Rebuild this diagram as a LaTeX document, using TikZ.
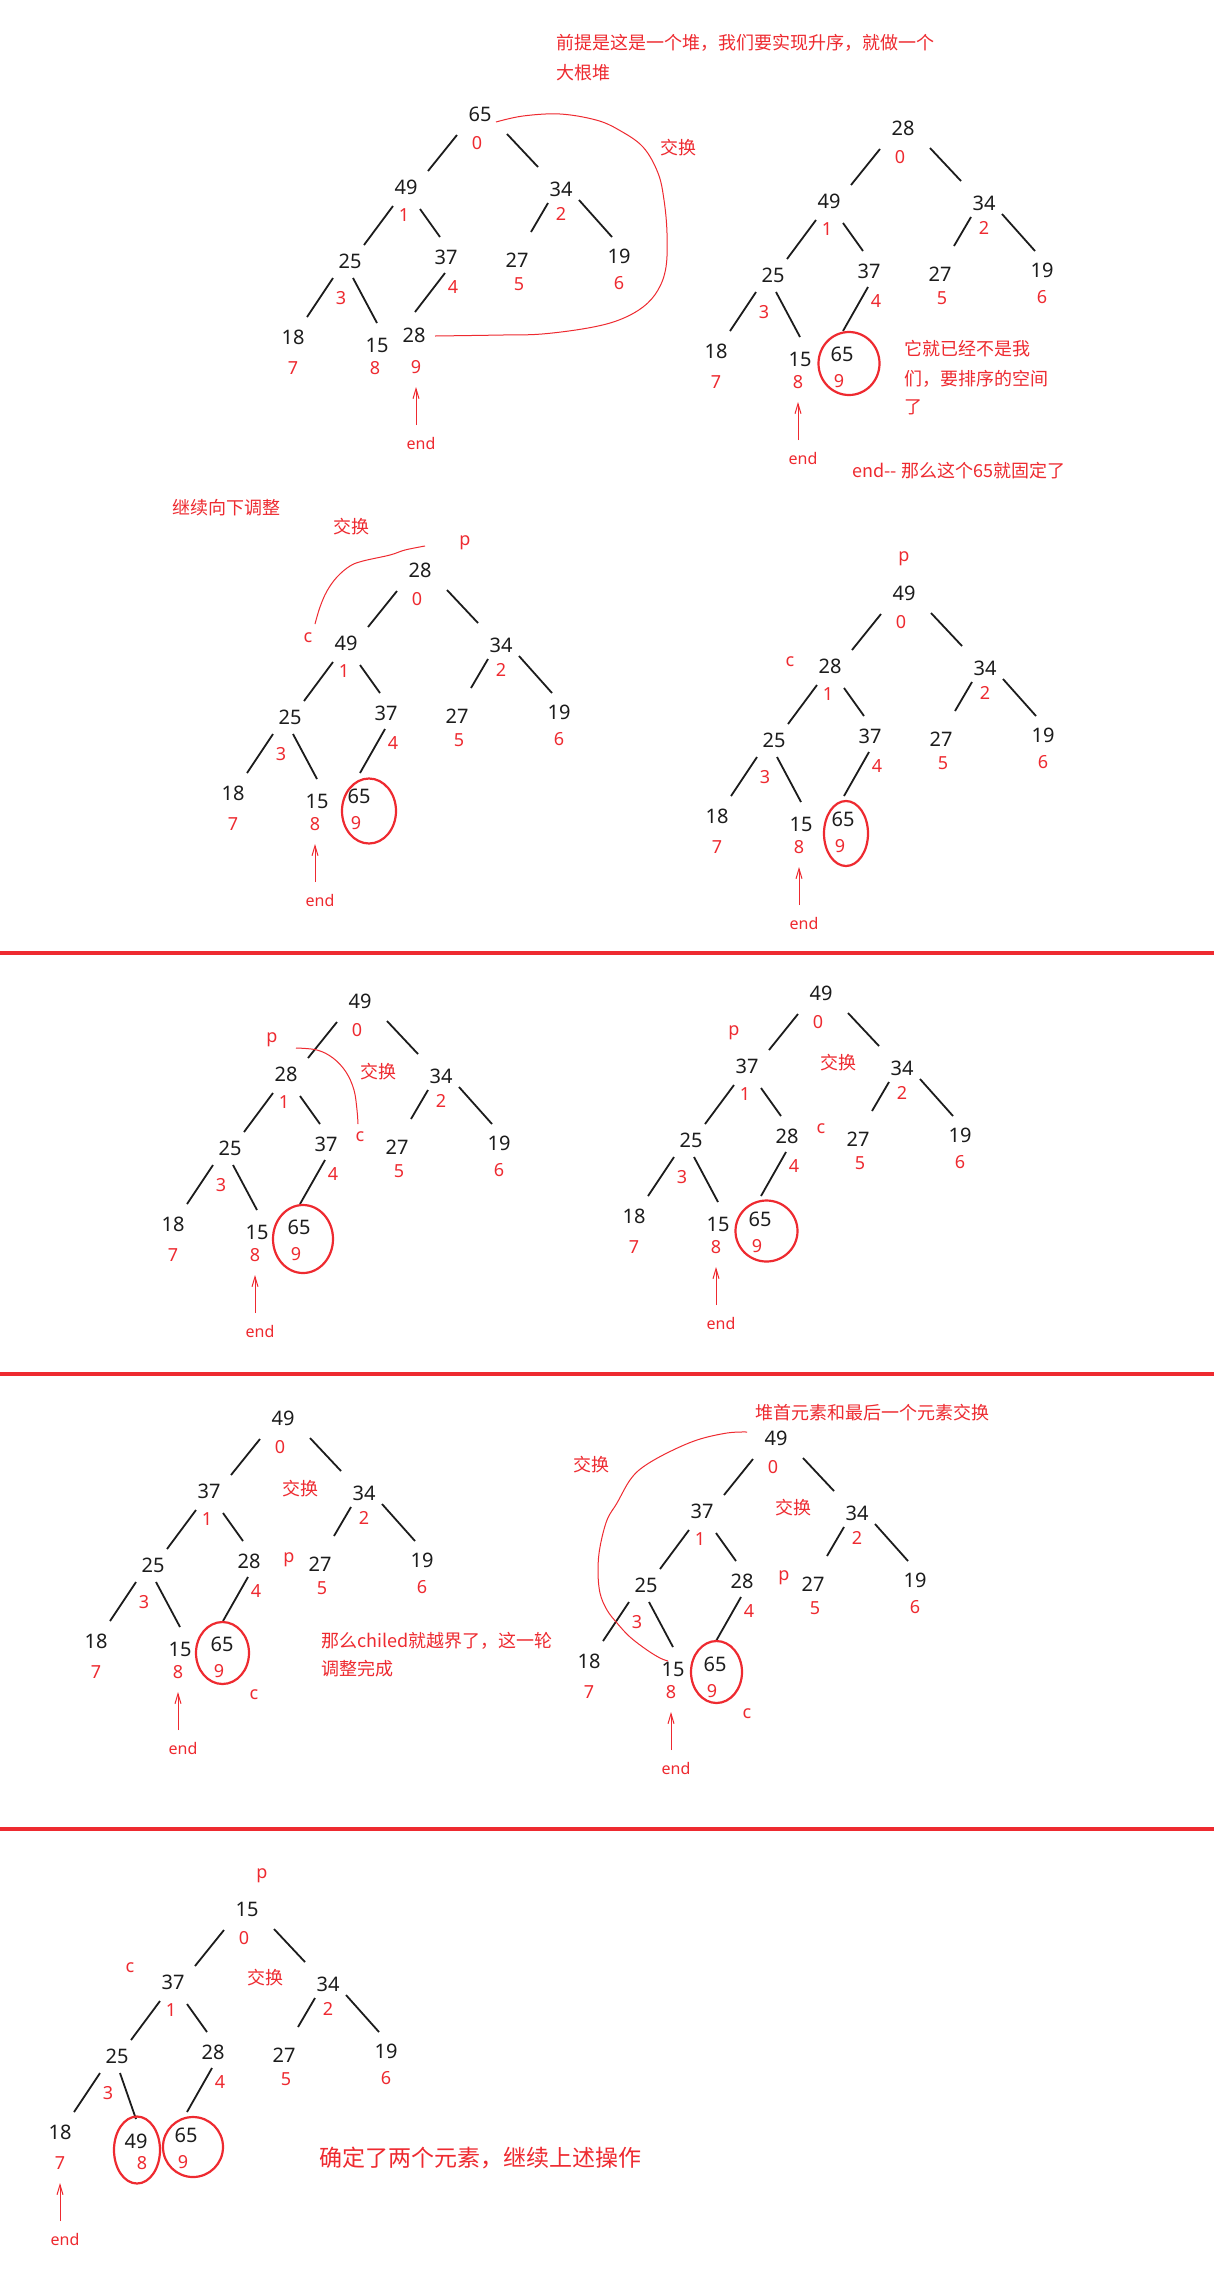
\documentclass[tikz,border=0pt]{standalone}
\usepackage{fontspec}
\setmainfont{Noto Sans}
\newfontfamily\cjk{Noto Sans CJK SC}
\usetikzlibrary{arrows.meta}
\definecolor{rd}{RGB}{238,42,48}
\definecolor{ink}{RGB}{28,28,28}
\tikzset{
  val/.style={font=\fontsize{10}{12}\selectfont, text=ink, inner sep=0pt},
  idx/.style={font=\fontsize{9}{11}\selectfont, text=rd, inner sep=0pt},
  ptr/.style={font=\fontsize{9}{11}\selectfont, text=rd, inner sep=0pt},
  note/.style={font=\cjk\fontsize{9}{11}\selectfont, text=rd, inner sep=0pt, anchor=west},
  bignote/.style={font=\cjk\fontsize{11.5}{13}\selectfont, text=rd, inner sep=0pt, anchor=west},
  swaptxt/.style={font=\cjk\fontsize{9}{11}\selectfont, text=rd, inner sep=0pt},
  endlbl/.style={font=\fontsize{8}{10}\selectfont, text=rd, inner sep=0pt},
  treeedge/.style={draw=ink, line width=0.9pt},
  ring/.style={draw=rd, line width=1.1pt},
  swapline/.style={draw=rd, line width=0.5pt},
  endarr/.style={draw=rd, line width=0.5pt, -{Straight Barb[length=5pt,width=3pt]}},
  rowrule/.style={draw=rd, line width=1.6pt},
}
\def\pEight{27,84}
\def\pNine{69,79}
\newcommand\heaptree[9]{\def\hpfx{#1}\def\horg{#2}\def\hvA{#3}\def\hvB{#4}\def\hvC{#5}\def\hvD{#6}\def\hvE{#7}\def\hvF{#8}\def\hvG{#9}\heaptreeRest}
\newcommand\heaptreeRest[3]{%
  \begin{scope}[shift={(\horg)}]
    \node[val] (\hpfx-n0) at (130,-147) {\hvA};
    \node[val] (\hpfx-n1) at (56,-74) {\hvB};
    \node[val] (\hpfx-n2) at (211,-72) {\hvC};
    \node[val] (\hpfx-n3) at (0,0) {\hvD};
    \node[val] (\hpfx-n4) at (96,-4) {\hvE};
    \node[val] (\hpfx-n5) at (167,-1) {\hvF};
    \node[val] (\hpfx-n6) at (269,-5) {\hvG};
    \node[val] (\hpfx-n7) at (-57,76) {#1};
    \node[val] (\hpfx-n8) at (\pEight) {#2};
    \node[val] (\hpfx-n9) at (\pNine) {#3};
    \node[idx] (\hpfx-i0) at (127,-118) {0};
    \node[idx] (\hpfx-i1) at (54,-46) {1};
    \node[idx] (\hpfx-i2) at (211,-47) {2};
    \node[idx] (\hpfx-i3) at (-9,37) {3};
    \node[idx] (\hpfx-i4) at (103,26) {4};
    \node[idx] (\hpfx-i5) at (169,23) {5};
    \node[idx] (\hpfx-i6) at (269,22) {6};
    \node[idx] (\hpfx-i7) at (-57,107) {7};
    \node[idx] (\hpfx-i8) at (25,107) {8};
    \node[idx] (\hpfx-i9) at (66,106) {9};
  \end{scope}
  \draw[treeedge] ([shift={(-23,21)}]\hpfx-n0.center) -- ([shift={(22,-16)}]\hpfx-n1.center);
  \draw[treeedge] ([shift={(27,20)}]\hpfx-n0.center) -- ([shift={(-23,-22)}]\hpfx-n2.center);
  \draw[treeedge] ([shift={(-13,19)}]\hpfx-n1.center) -- ([shift={(14,-16)}]\hpfx-n3.center);
  \draw[treeedge] ([shift={(14,22)}]\hpfx-n1.center) -- ([shift={(-6,-20)}]\hpfx-n4.center);
  \draw[treeedge] ([shift={(-13,14)}]\hpfx-n2.center) -- ([shift={(14,-28)}]\hpfx-n5.center);
  \draw[treeedge] ([shift={(18,11)}]\hpfx-n2.center) -- ([shift={(-7,-19)}]\hpfx-n6.center);
  \draw[treeedge] ([shift={(-17,17)}]\hpfx-n3.center) -- ([shift={(14,-20)}]\hpfx-n7.center);
  \draw[treeedge] ([shift={(3,17)}]\hpfx-n3.center) -- ([shift={(0,-22)}]\hpfx-n8.center);
  \draw[treeedge] ([shift={(-1,16)}]\hpfx-n4.center) -- ([shift={(1,-23)}]\hpfx-n9.center);
}
\newcommand\finarrow[2]{%
  \node[endlbl] (#1-end) at ([shift={(5,76)}]#1-#2.center) {end};
  \draw[endarr] ([shift={(-5,-18)}]#1-end.center) -- ([shift={(0,20)}]#1-#2.center);
}
\begin{document}
\begin{tikzpicture}[x=0.5pt, y=-0.5pt]
\fill[white] (0,0) rectangle (1214,2276);
\useasboundingbox (0,0) rectangle (1214,2276);

% row rules
\draw[rowrule] (0,953) -- (1214,953);
\draw[rowrule] (0,1374) -- (1214,1374);
\draw[rowrule] (0,1829) -- (1214,1829);

% ---------- Tree 1
{\def\pNine{64,74}\heaptree{t1}{350,261}{65}{49}{34}{25}{37}{27}{19}{18}{15}{28}}
\finarrow{t1}{i9}
\node[note] (h1a) at (556,43) {前提是这是一个堆，我们要实现升序，就做一个};
\node[note] (h1b) at (556,73) {大根堆};
\node[swaptxt] (x1) at (678,148) {交换};
\draw[swapline] plot[smooth, tension=0.6] coordinates {(496,122) (523,116) (560,114) (596,120) (619,130) (643,147) (658,173) (664,200) (667,233) (666,267) (658,290) (643,307) (619,320) (588,328) (542,334) (503,335) (435,336)};

% ---------- Tree 2
\heaptree{t2}{773,275}{28}{49}{34}{25}{37}{27}{19}{18}{15}{65}
\finarrow{t2}{i8}
\draw[ring] ([shift={(7,9.5)}]t2-n9.center) ellipse [x radius=15.25pt, y radius=15.75pt];
\node[note] (h2a) at (904,349) {它就已经不是我};
\node[note] (h2b) at (904,379) {们，要排序的空间};
\node[note] (h2c) at (904,407) {了};
\node[note] (h2d) at (852,471) {end-- 那么这个65就固定了};

% ---------- Tree 3
\heaptree{t3}{290,717}{28}{49}{34}{25}{37}{27}{19}{18}{15}{65}
\finarrow{t3}{i8}
\draw[ring] ([shift={(10,15)}]t3-n9.center) ellipse [x radius=13.5pt, y radius=16.25pt];
\node[note] (h3a) at (172,508) {继续向下调整};
\node[swaptxt] (x3) at (351,527) {交换};
\node[ptr] (p3) at (465,543) {p};
\node[ptr] (c3) at (308,638) {c};
\draw[swapline] plot[smooth, tension=0.6] coordinates {(425,546) (405,550) (390,555) (363,561) (350,566) (337,577) (327,591) (320,607) (315,624)};

% ---------- Tree 4
\heaptree{t4}{774,740}{49}{28}{34}{25}{37}{27}{19}{18}{15}{65}
\finarrow{t4}{i8}
\draw[ring] ([shift={(3,14.5)}]t4-n9.center) ellipse [x radius=11pt, y radius=16.25pt];
\node[ptr] (p4) at (904,559) {p};
\node[ptr] (c4) at (790,662) {c};

% ---------- Tree 5
\heaptree{t5}{230,1148}{49}{28}{34}{25}{37}{27}{19}{18}{15}{65}
\finarrow{t5}{i8}
\draw[ring] ([shift={(4,12)}]t5-n9.center) ellipse [x radius=15pt, y radius=17pt];
\node[ptr] (p5) at (272,1040) {p};
\node[swaptxt] (x5) at (378,1072) {交换};
\node[ptr] (c5) at (360,1137) {c};
\draw[swapline] plot[smooth, tension=0.6] coordinates {(296,1048) (317,1050) (333,1058) (346,1072) (354,1090) (357,1110) (358,1124)};

% ---------- Tree 6
\heaptree{t6}{691,1140}{49}{37}{34}{25}{28}{27}{19}{18}{15}{65}
\finarrow{t6}{i8}
\draw[ring] ([shift={(6.5,12)}]t6-n9.center) ellipse [x radius=15.5pt, y radius=15.25pt];
\node[ptr] (p6) at (734,1033) {p};
\node[swaptxt] (x6) at (838,1063) {交换};
\node[ptr] (c6) at (821,1129) {c};

% ---------- Tree 7
\heaptree{t7}{153,1565}{49}{37}{34}{25}{28}{27}{19}{18}{15}{65}
\finarrow{t7}{i8}
\draw[ring] ([shift={(0.5,9)}]t7-n9.center) ellipse [x radius=13.25pt, y radius=15.5pt];
\node[swaptxt] (x7) at (300,1489) {交换};
\node[ptr] (p7) at (289,1560) {p};
\node[ptr] (c7) at (254,1695) {c};
\node[note] (h7a) at (321,1641) {那么chiled就越界了，这一轮};
\node[note] (h7b) at (321,1669) {调整完成};

% ---------- Tree 8
\heaptree{t8}{646,1585}{49}{37}{34}{25}{28}{27}{19}{18}{15}{65}
\finarrow{t8}{i8}
\draw[ring] ([shift={(1.5,8)}]t8-n9.center) ellipse [x radius=12.75pt, y radius=15.5pt];
\node[note] (h8a) at (755,1413) {堆首元素和最后一个元素交换};
\node[swaptxt] (x8a) at (591,1465) {交换};
\node[swaptxt] (x8b) at (793,1508) {交换};
\node[ptr] (p8) at (784,1578) {p};
\node[ptr] (c8) at (747,1714) {c};
\draw[swapline] plot[smooth, tension=0.6] coordinates {(747,1432) (727,1433) (697,1440) (667,1453) (643,1467) (630,1480) (617,1503) (607,1520) (600,1547) (598,1570) (600,1593) (607,1610) (617,1623) (630,1637) (647,1650) (660,1658) (668,1661)};

% ---------- Tree 9
{\def\pEight{19,85}\heaptree{t9}{117,2056}{15}{37}{34}{25}{28}{27}{19}{18}{49}{65}}
\finarrow{t9}{i7}
\draw[ring] ([shift={(7,12)}]t9-n9.center) ellipse [x radius=15pt, y radius=15pt];
\draw[ring] ([shift={(1,9)}]t9-n8.center) ellipse [x radius=11.5pt, y radius=16.75pt];
\node[ptr] (p9) at (262,1876) {p};
\node[ptr] (c9) at (130,1968) {c};
\node[swaptxt] (x9) at (265,1978) {交换};
\node[bignote] (h9) at (319,2158) {确定了两个元素，继续上述操作};
\end{tikzpicture}
\end{document}
